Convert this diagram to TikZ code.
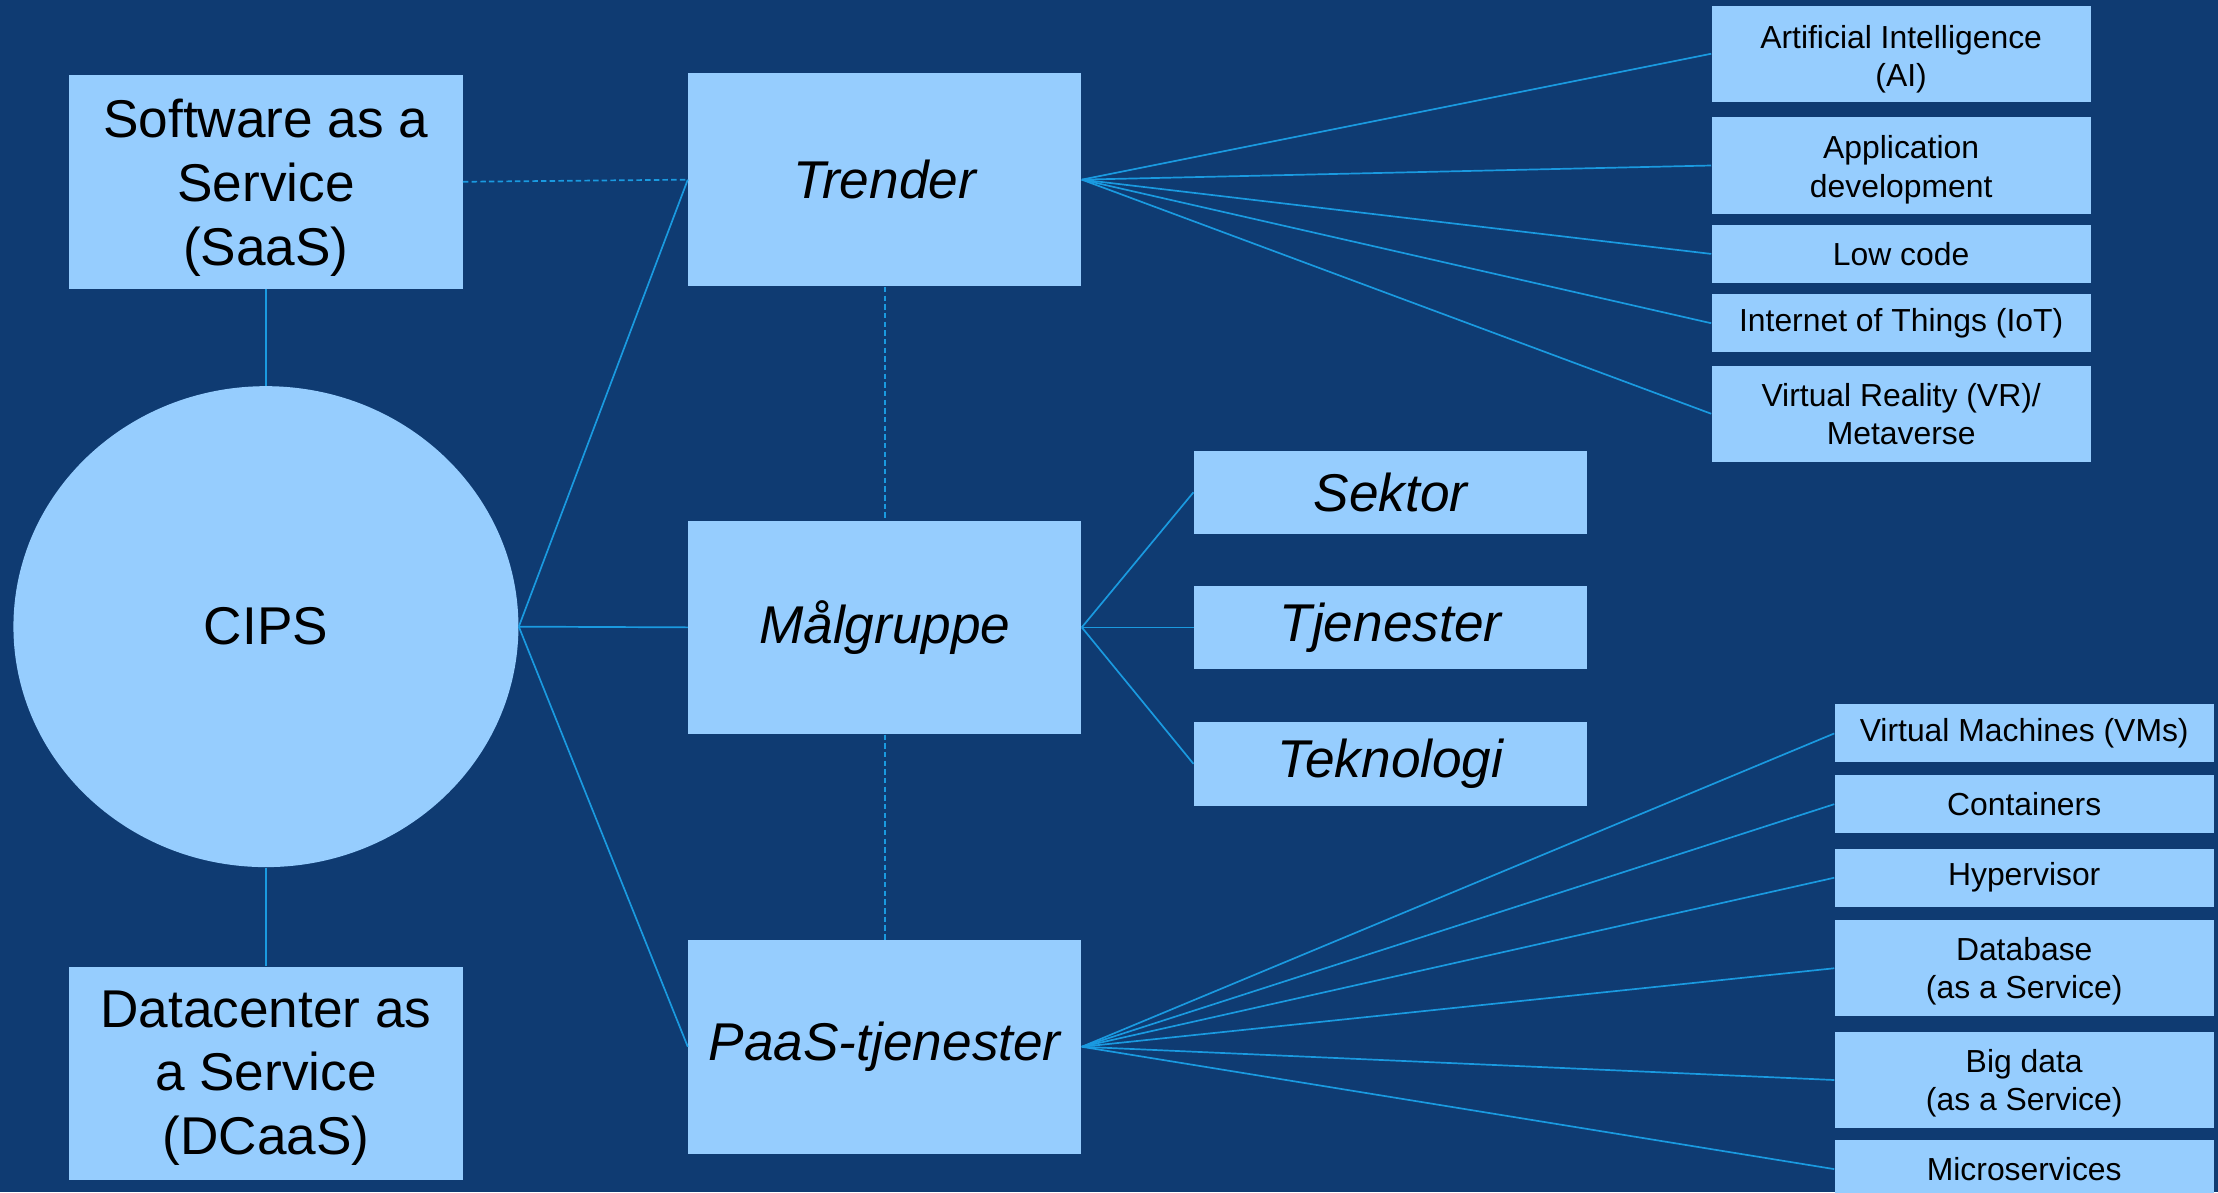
\documentclass[tikz,border=0pt]{standalone}
\usepackage{fontspec}
\setmainfont{Liberation Sans}
\usetikzlibrary{shapes.geometric}

\definecolor{bgblue}{RGB}{15,59,114}
\definecolor{boxfill}{RGB}{150,205,254}
\definecolor{linkblue}{RGB}{26,154,224}

% invisible strut that pushes the first line of a box down
\newcommand{\topgap}[1]{\rule{0pt}{#1}}

\tikzset{
  box/.style={fill=boxfill, inner sep=0pt, align=center, text=black},
  bigbox/.style={box, minimum width=208.5pt, minimum height=113.25pt,
    font=\fontsize{28.2}{33.75}\selectfont},
  topicbox/.style={bigbox, font=\fontsize{28.2}{33.75}\selectfont\itshape},
  midbox/.style={box, minimum width=208.5pt, minimum height=44.25pt,
    font=\fontsize{28.2}{33.75}\selectfont\itshape},
  smallbox/.style={box, minimum width=201pt, minimum height=30.75pt,
    font=\fontsize{16.9}{20.25}\selectfont},
  tallbox/.style={smallbox, minimum height=51pt},
  link/.style={draw=linkblue, line width=0.9pt},
  dlink/.style={link, dash pattern=on 2.9pt off 1.7pt},
}

\begin{document}
\begin{tikzpicture}[x=0.75pt,y=-0.75pt]
% background
\fill[bgblue] (0,0) rectangle (1568,843);
\useasboundingbox (0,0) rectangle (1568,843);

% left column
\node[bigbox] (saas) at (188,128.5) {\topgap{26.6pt}Software as a\\Service\\(SaaS)};
\node[ellipse, fill=boxfill, inner sep=0pt, minimum width=267.75pt, minimum height=255pt,
  font=\fontsize{28.2}{33.75}\selectfont] (cips) at (188,443) {CIPS};
\node[bigbox] (dcaas) at (188,759) {\topgap{24pt}Datacenter as\\a Service\\(DCaaS)};

% middle column
\node[topicbox] (trender) at (625.5,127) {Trender};
\node[topicbox] (malgruppe) at (625.5,443.5) {Målgruppe};
\node[topicbox] (paas) at (625.5,740) {PaaS-tjenester};

\node[midbox] (sektor) at (983,348) {Sektor};
\node[midbox] (tjenester) at (983,443.5) {Tjenester};
\node[midbox] (teknologi) at (983,540) {Teknologi};

% trends
\node[tallbox] (ai) at (1344,38) {\topgap{18.3pt}Artificial Intelligence\\(AI)};
\node[tallbox] (appdev) at (1344,117) {\topgap{16.8pt}Application\\development};
\node[smallbox] (lowcode) at (1344,179.5) {Low code};
\node[smallbox] (iot) at (1344,228.5) {Internet of Things (IoT)};
\node[tallbox] (vr) at (1344,292.5) {Virtual Reality (VR)/\\Metaverse};

% PaaS services
\node[smallbox] (vms) at (1431,518.5) {Virtual Machines (VMs)};
\node[smallbox] (containers) at (1431,568.5) {Containers};
\node[smallbox] (hypervisor) at (1431,620.5) {Hypervisor};
\node[tallbox] (database) at (1431,684.5) {\topgap{15.3pt}Database\\(as a Service)};
\node[tallbox] (bigdata) at (1431,763.5) {\topgap{15.3pt}Big data\\(as a Service)};
\node[smallbox] (micro) at (1431,826.5) {Microservices};

% connectors
\draw[link] (saas) -- (cips);
\draw[link] (cips) -- (dcaas);
\draw[dlink] (saas.east) -- (trender.west);
\draw[dlink] (trender) -- (malgruppe);
\draw[dlink] (malgruppe) -- (paas);
\foreach \t in {trender,malgruppe,paas}
  \draw[link] (cips.east) -- (\t.west);
\foreach \t in {sektor,tjenester,teknologi}
  \draw[link] (malgruppe.east) -- (\t.west);
\foreach \t in {ai,appdev,lowcode,iot,vr}
  \draw[link] (trender.east) -- (\t.west);
\foreach \t in {vms,containers,hypervisor,database,bigdata,micro}
  \draw[link] (paas.east) -- (\t.west);
\end{tikzpicture}
\end{document}
